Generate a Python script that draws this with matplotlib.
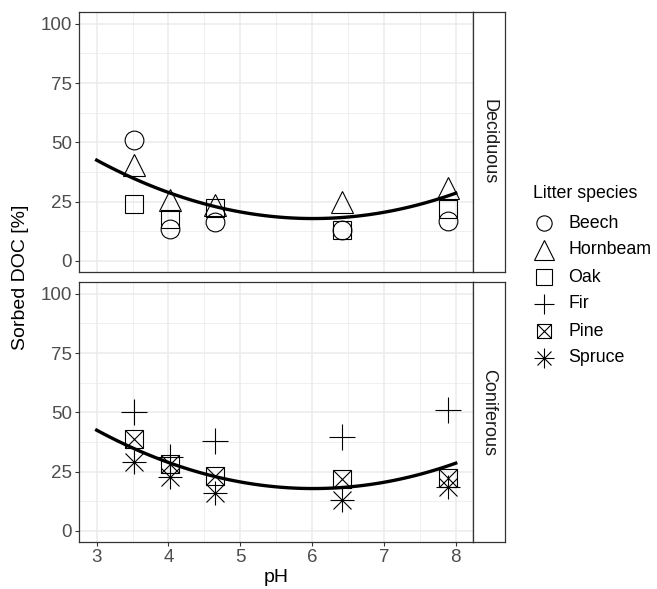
import numpy as np
import matplotlib
matplotlib.use('Agg')
import matplotlib.pyplot as plt
from matplotlib.lines import Line2D

plt.rcParams.update({
    'font.family': ['Liberation Sans', 'DejaVu Sans'],
    'font.size': 12,
})

# ---- data ----
ph = [3.52, 4.02, 4.65, 6.41, 7.89]

beech    = [51.0, 13.6, 16.2, 12.9, 17.0]
hornbeam = [40.5, 25.5, 23.5, 24.8, 30.8]
oak      = [23.8, 17.6, 22.5, 12.9, 21.8]

fir    = [50.0, 31.0, 38.0, 39.8, 51.0]
pine   = [38.8, 28.0, 23.0, 21.8, 22.2]
spruce = [29.0, 22.8, 15.8, 13.0, 18.6]

curve_ph  = [3.0, 4.0, 5.0, 6.0, 7.0, 8.0]
curve_doc = [42.3, 29.0, 21.0, 17.8, 19.9, 28.9]

GRID = '#EBEBEB'
BORDER = '#333333'
TXT = '#4D4D4D'

W, H = 657, 589
fig = plt.figure(figsize=(W / 100, H / 100), dpi=100)


def px_rect(l, t, r, b):
    return [l / W, 1 - b / H, (r - l) / W, (b - t) / H]


def style_panel(ax, show_x):
    ax.set_xlim(2.754, 8.24)
    ax.set_ylim(-4.7, 105)
    ax.set_xticks([3, 4, 5, 6, 7, 8])
    ax.set_xticks([3.5, 4.5, 5.5, 6.5, 7.5], minor=True)
    ax.set_yticks([0, 25, 50, 75, 100])
    ax.set_yticks([12.5, 37.5, 62.5, 87.5], minor=True)
    ax.grid(which='major', color=GRID, lw=1.1)
    ax.grid(which='minor', color=GRID, lw=0.55)
    ax.set_axisbelow(True)
    ax.tick_params(which='major', length=3, width=0.8, color=BORDER,
                   labelcolor=TXT, labelsize=13.5, pad=2)
    ax.tick_params(which='minor', length=0)
    if not show_x:
        ax.tick_params(axis='x', which='major', length=0, labelbottom=False)
    for s in ax.spines.values():
        s.set_color(BORDER)
        s.set_linewidth(0.9)


def strip(rect, label):
    sa = fig.add_axes(rect)
    sa.set_xticks([]); sa.set_yticks([])
    for s in sa.spines.values():
        s.set_color(BORDER)
        s.set_linewidth(0.9)
    sa.text(0.5, 0.5, label, rotation=-90, ha='center', va='center',
            fontsize=13, color='#1A1A1A', transform=sa.transAxes)


ax1 = fig.add_axes(px_rect(79, 12, 473, 272))
ax2 = fig.add_axes(px_rect(79, 282, 473, 542))
strip(px_rect(473, 12, 505, 272), 'Deciduous')
strip(px_rect(473, 282, 505, 542), 'Coniferous')

mk = dict(linestyle='none', markerfacecolor='none', markeredgecolor='black',
          color='black', markeredgewidth=0.8)

# quadratic fit line (same in both panels)
coef = np.polyfit(curve_ph, curve_doc, 2)
cx = np.linspace(min(curve_ph), max(curve_ph), 100)
for ax in (ax1, ax2):
    ax.plot(cx, np.polyval(coef, cx), color='black', lw=2.4, zorder=4)

ax1.plot(ph, beech, marker='o', markersize=13.5, **mk)
ax1.plot(ph, hornbeam, marker='^', markersize=16.5, **mk)
ax1.plot(ph, oak, marker='s', markersize=13.5, **mk)

ax2.plot(ph, fir, marker='+', markersize=19, **mk)
ax2.plot(ph, pine, marker='s', markersize=13.5, **mk)
ax2.plot(ph, pine, marker='x', markersize=13.5, **mk)
ax2.plot(ph, spruce, marker='+', markersize=17.5, **mk)
ax2.plot(ph, spruce, marker='x', markersize=12.5, **mk)

style_panel(ax1, False)
style_panel(ax2, True)

ax2.set_xlabel('pH', fontsize=14, color='black', labelpad=2)
fig.text(21 / W, 1 - 277 / H, 'Sorbed DOC [%]', rotation=90, ha='center',
         va='center', fontsize=14)

# ---- legend ----
species = ['Beech', 'Hornbeam', 'Oak', 'Fir', 'Pine', 'Spruce']
fig.text(533 / W, 1 - 193 / H, 'Litter species', ha='left', va='center',
         fontsize=12.8)
lx = 544 / W
for i, name in enumerate(species):
    yy = 1 - (223 + i * 27) / H
    fig.text(568 / W, yy, name, ha='left', va='center', fontsize=12.8)
    kw = dict(transform=fig.transFigure, markerfacecolor='none',
              markeredgecolor='black', markeredgewidth=0.8, linestyle='none')
    if name == 'Beech':
        fig.add_artist(Line2D([lx], [yy], marker='o', markersize=11, **kw))
    elif name == 'Hornbeam':
        fig.add_artist(Line2D([lx], [yy], marker='^', markersize=14, **kw))
    elif name == 'Oak':
        fig.add_artist(Line2D([lx], [yy], marker='s', markersize=11, **kw))
    elif name == 'Fir':
        fig.add_artist(Line2D([lx], [yy], marker='+', markersize=14.5, **kw))
    elif name == 'Pine':
        fig.add_artist(Line2D([lx], [yy], marker='s', markersize=10, **kw))
        fig.add_artist(Line2D([lx], [yy], marker='x', markersize=10, **kw))
    else:
        fig.add_artist(Line2D([lx], [yy], marker='+', markersize=14, **kw))
        fig.add_artist(Line2D([lx], [yy], marker='x', markersize=10, **kw))

fig.savefig('out.png', dpi=100, facecolor='white')
